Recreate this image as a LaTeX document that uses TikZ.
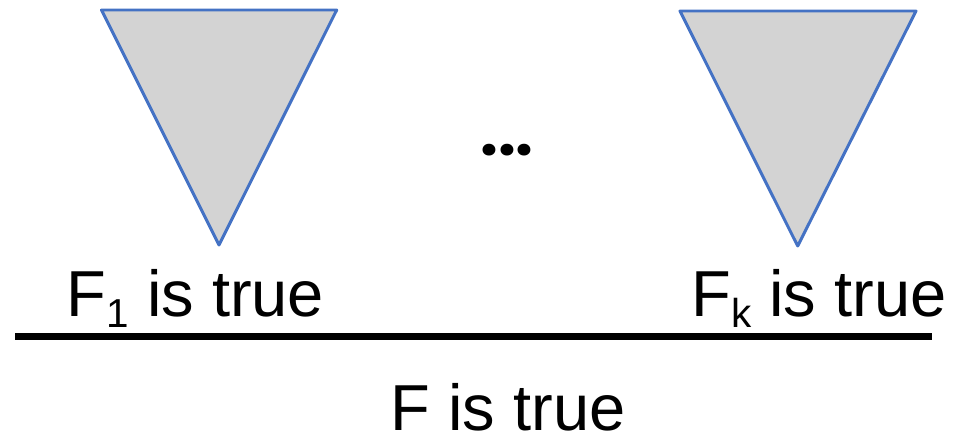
\documentclass[tikz,border=0pt]{standalone}
\usepackage{fontspec}
\setmainfont{Liberation Sans}
\newfontfamily\dotfont{Poppins}
\definecolor{triblue}{HTML}{4472C4}
\definecolor{trigray}{HTML}{D3D3D3}
\newcommand{\lowsub}[1]{\raisebox{-0.17em}{\fontsize{23pt}{23pt}\selectfont #1}}
\begin{document}
\begin{tikzpicture}[
  x=0.02cm, y=-0.02cm,
  tree/.style={draw=triblue, fill=trigray, line width=1.7pt, line join=round},
  label/.style={anchor=base, inner sep=0, font=\fontsize{37pt}{44pt}\selectfont}
]
\useasboundingbox (0,0) rectangle (959,443);

\draw[tree] (101.5,10) -- (336.7,10) -- (219,245) -- cycle;
\draw[tree] (680,11) -- (916,11) -- (797.7,246) -- cycle;
\node[label, font=\fontsize{36pt}{44pt}\dotfont\bfseries] (dots) at (507,155) {...};

\node[label] (first) at (195.5,316) {F\lowsub{1} is true};
\node[label] (last)  at (819,316) {F\lowsub{k} is true};

\coordinate (rulel) at (15,336.5);
\coordinate (ruler) at (932,336.5);
\draw[line width=4pt] (rulel) -- (ruler);

\node[label] (concl) at (508,430) {F is true};
\end{tikzpicture}
\end{document}
